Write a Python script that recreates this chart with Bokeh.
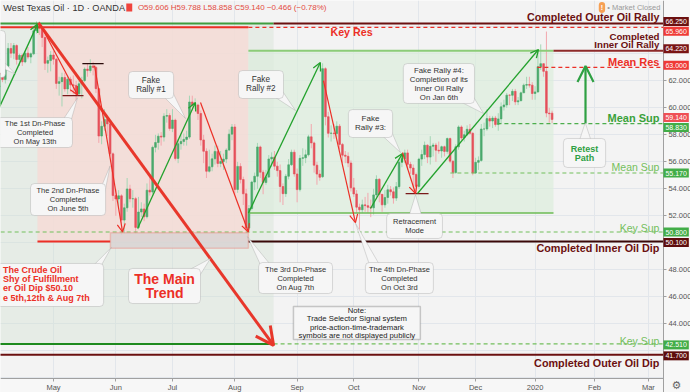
import pandas as pd
from bokeh.plotting import figure
from bokeh.models import (ColumnDataSource, FixedTicker, NumeralTickFormatter, BoxAnnotation,
                          PolyAnnotation, Label, Arrow, OpenHead, Range1d)
from bokeh.embed import file_html
from bokeh.resources import INLINE

# ---------------- data (daily bars, Apr 1 2019 .. Jan 10 2020) ----------------
opens = [
    # Apr
    60.30, 61.59, 62.58, 62.46, 62.10, 63.08, 64.40, 64.05, 64.61, 63.58, 63.89, 63.40, 64.05, 63.76,
    64.00, 65.70, 66.10, 65.89, 65.21, 63.30, 63.50,
    # May
    63.91, 63.60, 61.81, 61.94, 62.25, 61.40, 62.12, 61.70, 61.66, 61.04, 61.78, 62.02, 62.87, 62.76,
    63.10, 62.99, 61.42, 57.91, 58.63, 59.14, 58.81, 56.59,
    # Jun
    53.50, 53.25, 53.48, 51.68, 52.59, 53.99, 53.26, 53.27, 51.14, 52.28, 52.51, 51.93, 53.90, 53.76,
    57.07, 57.43, 57.90, 57.83, 59.38, 59.43,
    # Jul
    58.47, 59.09, 56.25, 57.34, 57.51, 57.66, 57.83, 60.43, 60.20, 60.21, 59.58, 57.62, 56.78, 55.30,
    55.63, 56.22, 56.77, 55.88, 56.02, 56.20, 56.87, 58.05,
    # Aug
    58.58, 53.95, 55.66, 54.69, 53.63, 51.09, 52.54, 54.50, 54.93, 57.10, 55.23, 54.47, 54.87, 56.21,
    56.34, 55.68, 55.35, 54.17, 53.64, 54.93, 55.78, 56.71,
    # Sep
    55.10, 53.94, 56.26, 56.30, 56.52, 57.85, 57.40, 55.75, 55.09, 54.90, 62.90, 59.34, 58.11, 58.13,
    58.09, 58.64, 57.29, 56.49, 56.41, 55.91,
    # Oct
    54.07, 53.62, 52.64, 52.45, 52.81, 52.75, 52.63, 52.59, 53.55, 54.70, 53.59, 52.81, 53.36, 53.93,
    53.78, 53.31, 54.16, 55.97, 56.23, 56.66, 55.81, 55.54, 55.06,
    # Nov
    54.18, 56.20, 56.54, 57.23, 56.35, 57.15, 57.24, 56.86, 56.80, 57.12, 56.77, 57.72, 56.05, 55.21,
    57.11, 58.58, 57.77, 58.01, 58.41, 58.11,
    # Dec
    55.17, 55.96, 56.10, 58.43, 58.43, 59.20, 59.02, 59.24, 58.76, 59.18, 60.07, 60.21, 60.94, 60.93,
    61.22, 60.44, 60.52, 61.11, 61.68, 61.72, 61.68,
    # Jan
    61.06, 61.18, 63.05, 63.27, 62.70, 59.61, 59.606,
]
highs = [
    61.90, 62.70, 63.00, 62.90, 63.30, 64.80, 64.80, 64.80, 64.70, 64.00, 64.00, 64.20, 64.50, 64.10,
    65.90, 66.40, 66.40, 66.00, 65.60, 63.80, 64.20,
    64.20, 63.70, 62.30, 62.60, 62.60, 62.40, 62.30, 62.40, 62.00, 62.00, 62.30, 63.00, 63.30, 63.60,
    63.40, 63.10, 61.50, 59.00, 59.90, 59.30, 58.90, 56.70,
    54.00, 53.90, 53.60, 52.90, 54.80, 54.30, 53.90, 53.40, 53.40, 53.00, 52.90, 54.40, 54.90, 57.20,
    58.00, 58.10, 58.20, 59.60, 59.90, 59.60,
    59.90, 59.20, 57.70, 58.00, 58.10, 58.30, 60.90, 60.90, 60.70, 60.30, 59.80, 58.00, 57.00, 56.90,
    56.60, 57.20, 57.20, 56.80, 56.60, 57.00, 58.40, 58.80,
    58.80, 56.00, 55.90, 54.90, 54.00, 52.80, 54.60, 55.20, 57.40, 57.20, 55.40, 55.40, 56.50, 56.70,
    56.80, 56.00, 55.80, 54.40, 55.10, 56.20, 56.90, 56.90,
    55.50, 56.50, 57.00, 56.90, 58.00, 58.80, 57.50, 56.00, 55.40, 63.30, 63.00, 59.70, 58.70, 58.80,
    59.00, 58.80, 57.40, 56.80, 56.70, 56.10,
    54.80, 53.90, 52.90, 53.20, 53.40, 53.70, 53.20, 54.00, 55.00, 54.80, 53.60, 53.90, 54.30, 54.20,
    54.10, 54.50, 56.10, 56.60, 56.90, 56.90, 56.00, 55.80, 55.20,
    56.30, 56.90, 57.50, 57.30, 57.90, 57.40, 57.40, 57.50, 57.20, 57.20, 57.80, 57.80, 56.10, 57.30,
    58.70, 58.70, 58.30, 58.70, 58.80, 58.20,
    56.30, 56.40, 58.80, 58.90, 59.90, 59.40, 59.40, 59.40, 59.60, 60.40, 60.60, 61.10, 61.00, 61.40,
    61.40, 60.80, 61.20, 61.80, 62.30, 62.30, 61.90,
    61.60, 64.10, 64.70, 63.30, 65.65, 60.00, 59.788,
]
lows = [
    60.20, 61.30, 62.00, 61.90, 61.80, 63.00, 63.70, 63.60, 63.20, 63.10, 63.10, 63.30, 63.60, 63.30,
    63.90, 65.50, 65.40, 64.50, 62.80, 62.60, 62.70,
    63.20, 61.40, 60.90, 60.10, 61.20, 61.00, 61.20, 61.00, 60.50, 60.90, 60.70, 61.90, 62.30, 62.60,
    62.40, 61.10, 57.40, 57.30, 58.30, 57.90, 56.40, 53.10,
    52.00, 52.50, 50.60, 50.70, 52.30, 53.00, 52.60, 50.70, 51.00, 51.90, 51.60, 51.80, 53.50, 53.60,
    56.70, 56.90, 57.20, 57.50, 58.90, 58.30,
    58.20, 56.10, 55.90, 56.90, 57.20, 57.20, 57.70, 59.80, 59.90, 59.10, 57.20, 55.90, 54.80, 55.20,
    55.30, 55.80, 55.60, 55.60, 55.40, 55.90, 56.80, 57.60,
    53.60, 53.70, 54.40, 52.80, 50.90, 50.90, 52.40, 53.90, 54.00, 54.80, 53.60, 54.30, 54.80, 55.60,
    55.40, 54.90, 53.00, 52.80, 53.40, 54.70, 55.70, 54.90,
    53.00, 53.80, 55.70, 55.90, 56.40, 57.00, 55.20, 54.30, 54.60, 54.80, 58.70, 57.80, 57.50, 57.70,
    57.80, 56.90, 55.90, 55.90, 55.60, 53.80,
    53.40, 52.20, 50.99, 52.20, 52.30, 52.20, 51.90, 52.10, 53.40, 53.00, 52.30, 52.60, 52.90, 53.50,
    52.90, 53.10, 54.00, 55.60, 55.90, 55.40, 55.10, 54.10, 53.70,
    54.00, 55.70, 56.20, 55.90, 55.80, 56.40, 56.00, 56.60, 56.30, 56.40, 56.60, 55.90, 54.80, 55.10,
    56.90, 57.60, 57.50, 57.90, 58.00, 55.00,
    55.10, 55.40, 56.00, 57.90, 58.30, 58.60, 58.50, 58.60, 58.30, 58.80, 59.80, 60.00, 60.20, 60.50,
    60.20, 60.20, 60.50, 61.10, 61.40, 61.50, 60.60,
    60.60, 61.10, 62.80, 62.30, 59.30, 58.90, 58.858,
]
closes = [
    61.59, 62.58, 62.46, 62.10, 63.08, 64.40, 64.05, 64.61, 63.58, 63.89, 63.40, 64.05, 63.76, 64.00,
    65.70, 66.10, 65.89, 65.21, 63.30, 63.50, 63.91,
    63.60, 61.81, 61.94, 62.25, 61.40, 62.12, 61.70, 61.66, 61.04, 61.78, 62.02, 62.87, 62.76, 63.10,
    62.99, 61.42, 57.91, 58.63, 59.14, 58.81, 56.59, 53.50,
    53.25, 53.48, 51.68, 52.59, 53.99, 53.26, 53.27, 51.14, 52.28, 52.51, 51.93, 53.90, 53.76, 57.07,
    57.43, 57.90, 57.83, 59.38, 59.43, 58.47,
    59.09, 56.25, 57.34, 57.51, 57.66, 57.83, 60.43, 60.20, 60.21, 59.58, 57.62, 56.78, 55.30, 55.63,
    56.22, 56.77, 55.88, 56.02, 56.20, 56.87, 58.05, 58.58,
    53.95, 55.66, 54.69, 53.63, 51.09, 52.54, 54.50, 54.93, 57.10, 55.23, 54.47, 54.87, 56.21, 56.34,
    55.68, 55.35, 54.17, 53.64, 54.93, 55.78, 56.71, 55.10,
    53.94, 56.26, 56.30, 56.52, 57.85, 57.40, 55.75, 55.09, 54.85, 62.90, 59.34, 58.11, 58.13, 58.09,
    58.64, 57.29, 56.49, 56.41, 55.91, 54.07,
    53.62, 52.64, 52.45, 52.81, 52.75, 52.63, 52.59, 53.55, 54.70, 53.59, 52.81, 53.36, 53.93, 53.78,
    53.31, 54.16, 55.97, 56.23, 56.66, 55.81, 55.54, 55.06, 54.18,
    56.20, 56.54, 57.23, 56.35, 57.15, 57.24, 56.86, 56.80, 57.12, 56.77, 57.72, 56.05, 55.21, 57.11,
    58.58, 57.77, 58.01, 58.41, 58.11, 55.17,
    55.96, 56.10, 58.43, 58.43, 59.20, 59.02, 59.24, 58.76, 59.18, 60.07, 60.21, 60.94, 60.93, 61.22,
    60.44, 60.52, 61.11, 61.68, 61.72, 61.68, 61.06,
    61.18, 63.05, 63.27, 62.70, 59.61, 59.56, 59.14,
]

holidays = ["2019-04-19", "2019-05-27", "2019-07-04", "2019-09-02", "2019-11-28",
            "2019-12-25", "2020-01-01", "2020-01-20", "2020-02-17"]
calendar = pd.bdate_range("2019-04-01", "2020-03-31", freq="C", holidays=holidays)

price_ticks = [44, 46, 48, 52, 54, 56, 58, 60, 62]

# key levels
outer_rally = 66.25
key_res = 65.96
inner_rally = 64.22
mean_res = 63.00
last_price = 59.14
mean_sup_hi = 58.83
mean_sup_lo = 55.17
key_sup_hi = 50.80
inner_dip = 50.10
key_sup_lo = 42.51
outer_dip = 41.70
rally_base = 52.20
tag_values = [outer_rally, key_res, inner_rally, mean_res, last_price, mean_sup_hi,
              mean_sup_lo, key_sup_hi, inner_dip, key_sup_lo, outer_dip]

header_title = "West Texas Oil · 1D · OANDA"
header_ohlc = "O59.606  H59.788  L58.858  C59.140  −0.466 (−0.78%)"

# ---------------- styling ----------------
FONT = "Liberation Sans"
UP, DN = "#4aa96c", "#e5505b"
UP_W, DN_W = "#a4d6b5", "#f2a7ad"
RED = "#ec2f26"
DARK = "#6b1010"
GREEN = "#22a12c"
LGREEN = "#73bf5c"
BG = "#f3f3f3"
PANEL = "#f7f7f7"

n = len(closes)
is_up = [c >= o for o, c in zip(opens, closes)]
src = ColumnDataSource(dict(
    x=list(range(n)), high=highs, low=lows,
    top=[max(o, c) for o, c in zip(opens, closes)],
    bottom=[min(o, c) for o, c in zip(opens, closes)],
    body=[UP if u else DN for u in is_up],
    wick=[UP_W if u else DN_W for u in is_up]))

month_idx, month_lab = [], []
for i, d in enumerate(calendar):
    if i > 0 and d.month != calendar[i - 1].month:
        month_idx.append(i)
        month_lab.append(str(d.year) if d.month == 1 else d.strftime("%b"))

X0, X_END = 2.3, 245.86      # whole canvas width in bar units
AXIS_X = 236.3               # price scale position
Y_AXIS = 39.95               # time scale position
Y0, Y1 = 38.91, 67.95

p = figure(width=690, height=392, x_range=Range1d(X0, X_END), y_range=Range1d(Y0, Y1),
           output_backend="svg", toolbar_location=None, y_axis_location="right",
           min_border=0, min_border_left=0, min_border_right=0, min_border_top=0,
           min_border_bottom=0, background_fill_color=BG, border_fill_color=PANEL,
           outline_line_color=None)

for ax in (p.xaxis[0], p.yaxis[0]):
    ax.axis_line_color = "#a0a0a0"
    ax.major_tick_line_color = "#a0a0a0"
    ax.major_tick_out = 3
    ax.major_tick_in = 0
    ax.minor_tick_line_color = None
    ax.major_label_text_font = FONT
    ax.major_label_text_font_size = "7.5px"
    ax.major_label_text_color = "#555555"
    ax.major_label_standoff = 2
p.xaxis.fixed_location = Y_AXIS
p.yaxis.fixed_location = AXIS_X
p.xaxis.bounds = (X0, AXIS_X)
p.xaxis.ticker = FixedTicker(ticks=month_idx)
p.xaxis.major_label_overrides = {i: lab for i, lab in zip(month_idx, month_lab)}
p.yaxis.ticker = FixedTicker(ticks=price_ticks)
p.yaxis.formatter = NumeralTickFormatter(format="0.000")
p.xgrid.ticker = FixedTicker(ticks=month_idx)
p.ygrid.ticker = FixedTicker(ticks=list(range(40, 68, 2)))
p.grid.grid_line_color = "#e2e6eb"

# anchor x positions (bar index) for drawings
PEAK = 15.35
BOX_L = 41.1
AUG = 89.8
TREND_END = 98.7
RALLY_END = 197.5
END = AXIS_X


def shade(l, r, t, b, color, alpha):
    p.add_layout(BoxAnnotation(left=l, right=r, top=t, bottom=b, fill_color=color,
                               fill_alpha=alpha, line_color=None, level="underlay"))


shade(-10, TREND_END, outer_rally, key_sup_lo, "#cfe0cf", 0.35)
shade(PEAK, AUG, key_res, inner_dip, "#f4dcd6", 0.85)
shade(AUG, RALLY_END, inner_rally, rally_base, "#dcecdc", 0.7)
# scale panels (price column and time strip)
shade(AXIS_X, X_END + 5, Y1 + 1, Y0 - 1, PANEL, 1)
shade(X0 - 5, X_END + 5, Y_AXIS, Y0 - 1, PANEL, 1)

# candles
p.segment(x0="x", y0="low", x1="x", y1="high", line_color="wick", line_width=1, source=src)
p.vbar(x="x", top="top", bottom="bottom", width=0.62, fill_color="body", line_color="body",
       line_width=0.6, source=src)


def hline(x0, x1, y, color, width=1.5, dash="solid"):
    p.segment(x0=[x0], y0=[y], x1=[x1], y1=[y], line_color=color, line_width=width, line_dash=dash)


hline(-10, TREND_END, outer_rally, "#3f9d3f", 2)
hline(TREND_END, END, outer_rally, DARK, 2)
hline(-10, AUG, key_res, RED, 2)
hline(AUG, END, key_res, RED, 1.2, "4 3")
hline(AUG, RALLY_END, inner_rally, "#8ccc78", 2)
hline(RALLY_END, END, inner_rally, "#8e2a2a", 2)
hline(191.8, END, mean_res, RED, 1.2, "4 3")
hline(177.7, END, mean_sup_hi, "#4cae4c", 1.2, "4 3")
hline(161.1, END, mean_sup_lo, LGREEN, 1.2, "4 3")
hline(-10, END, key_sup_hi, LGREEN, 1.2, "4 3")
hline(PEAK, BOX_L, inner_dip, RED, 2)
hline(AUG, END, inner_dip, "#3a0808", 2)
hline(AUG, RALLY_END, rally_base, "#6dbb55", 1.5)
hline(-10, TREND_END, key_sup_lo, "#1e8a1e", 2)
hline(TREND_END, END, key_sup_lo, LGREEN, 1.2, "4 3")
hline(-10, END, outer_dip, DARK, 2)
# small phase markers
hline(24.2, 31.6, 60.91, "#7a1a1a", 1.3)
hline(31.2, 38.7, 63.28, "#2a0a0a", 1.3)
hline(145.3, 153.4, 53.65, "#7a1a1a", 1.3)

p.add_layout(BoxAnnotation(left=BOX_L, right=AUG, top=key_sup_hi - 0.05, bottom=49.6,
                           fill_color="#d8d2d2", fill_alpha=0.8, line_color="#ef6e60",
                           line_width=1.5, level="annotation"))


def arrow(x0, y0, x1, y1, color, width, size):
    p.add_layout(Arrow(end=OpenHead(line_color=color, line_width=width, size=size),
                       x_start=x0, y_start=y0, x_end=x1, y_end=y1,
                       line_color=color, line_width=width))


arrow(0.5, 59.4, PEAK, 66.2, GREEN, 1.3, 8)
arrow(50.7, 51.06, 71.1, 60.39, GREEN, 1.3, 8)
arrow(AUG, rally_base, 115.2, 63.36, GREEN, 1.3, 8)
arrow(132.9, 52.54, 144.2, 56.62, GREEN, 1.3, 8)
arrow(149.5, 53.65, 192.2, 64.32, GREEN, 1.3, 8)
arrow(208.8, mean_sup_hi, 208.8, 63.1, "#2ea043", 2.2, 16)
arrow(15.7, 66.3, TREND_END, 42.4, "#e8372b", 3, 18)
arrow(17.1, 65.87, 29.5, 60.95, RED, 1.2, 8)
arrow(35.5, 63.13, 45.4, 50.8, RED, 1.2, 8)
arrow(72.9, 60.39, AUG, 50.8, RED, 1.2, 8)
arrow(116.3, 62.02, 127.6, 51.5, RED, 1.2, 8)
arrow(144.2, 56.69, 148.8, 53.65, RED, 1.2, 8)


def txt(x, y, text, size, color, bold=False, align="center", lh=1.0, font=FONT):
    p.add_layout(Label(x=x, y=y, text=text, text_font=font, text_font_size=size,
                       text_color=color, text_font_style="bold" if bold else "normal",
                       text_align=align, text_baseline="middle", text_line_height=lh,
                       level="overlay"))


BOX_FILL = "#f6f6f6"


def callout(l, r, t, b, text, tx, ty, size="7.5px", color="#333333", bold=False, lh=1.0,
            tail=None, radius=4, line="#8f8f8f", lw=1, align="center"):
    if tail:
        p.add_layout(PolyAnnotation(xs=tail[0], ys=tail[1], fill_color=BOX_FILL, fill_alpha=1,
                                    line_color=line, line_width=lw, level="overlay"))
    p.add_layout(BoxAnnotation(left=l, right=r, top=t, bottom=b, fill_color=BOX_FILL,
                               fill_alpha=1, line_color=line, line_width=lw,
                               border_radius=radius, level="overlay"))
    if text:
        txt(tx, ty, text, size, color, bold, align, lh)


callout(-12, 4.06, 65.73, 62.24, "", 0, 64, tail=([2.5, 7.6, 3.4], [63.6, 62.5, 62.9]))
callout(-5, 27.7, 59.28, 57.06, "The 1st Dn-Phase\nCompleted\nOn May 13th", 14.5, 58.17,
        tail=([24.2, 29.5, 27.2], [59.06, 60.75, 59.06]))
callout(12.9, 39.4, 54.39, 52.02, "The 2nd Dn-Phase\nCompleted\nOn June 5th", 26.1, 53.2,
        tail=([37.6, 41.0, 38.8], [54.0, 55.7, 53.4]))
callout(47.5, 63.4, 62.69, 60.69, "Fake\nRally #1", 55.4, 61.69, size="8.2px",
        tail=([59.8, 67.6, 62.5], [60.85, 59.21, 61.4]))
callout(86.3, 102.2, 62.76, 60.69, "Fake\nRally #2", 94.2, 61.73, size="8.2px",
        tail=([98.8, 106.4, 101.3], [60.85, 59.8, 61.4]))
callout(125.1, 140.7, 59.87, 57.8, "Fake\nRally #3:", 132.9, 58.84, size="8px",
        tail=([137.0, 143.5, 139.8], [57.95, 56.69, 58.5]))
callout(144.5, 169.6, 63.28, 60.32, "Fake Rally #4:\nCompletion of its\nInner Oil Rally\nOn Jan 6th",
        157.05, 61.8, size="7.8px", tail=([164.5, 172.8, 168.7], [60.47, 59.58, 61.0]))
callout(138.6, 158.3, 52.17, 50.32, "Retracement\nMode", 148.45, 51.24,
        tail=([146.5, 148.8, 151.0], [52.0, 53.55, 52.0]))
callout(93.4, 119.5, 48.54, 46.24, "The 3rd Dn-Phase\nCompleted\nOn Aug 7th", 106.45, 47.39,
        tail=([94.0, 89.5, 97.5], [48.4, 50.45, 48.4]))
callout(131.1, 155.1, 48.54, 46.24, "The 4th Dn-Phase\nCompleted\nOn Oct 3rd", 143.1, 47.39,
        tail=([132.5, 127.6, 136.0], [48.4, 51.45, 48.4]))
callout(105.7, 150.5, 45.28, 42.84,
        "Note:\nTrade Selector Signal system\nprice-action-time-trademark\nsymbols are not displayed publicly",
        128.1, 44.06, size="7.7px", color="#222222", lh=0.9, radius=0, line="#5a5a5a", lw=1.5)
callout(47.5, 72.9, 48.1, 45.5, "The Main\nTrend", 60.2, 46.8, size="14px", color=RED,
        bold=True, lh=0.87, tail=([68.5, 76.4, 71.8], [47.95, 48.84, 47.3]))
callout(-12, 38.7, 48.47, 45.28,
        "The Crude Oil\nShy of Fulfillment\ner Oil Dip $50.10\ne 5th,12th & Aug 7th",
        3.2, 46.96, size="9px", color=RED, bold=True, lh=0.92, align="left",
        tail=([35.0, 41.4, 37.8], [48.3, 49.65, 48.3]))
callout(201.0, 215.9, 57.73, 55.58, "Retest\nPath", 208.45, 56.65, size="9px", color="#2ea043",
        bold=True, lh=0.9, tail=([206.6, 208.7, 210.8], [57.55, 58.9, 57.55]))

# level captions
RX = 234.9
txt(RX, 66.76, "Completed Outer Oil Rally", "10.7px", DARK, True, "right")
txt(126.2, 65.6, "Key Res", "10.7px", RED, True)
txt(RX, 65.28, "Completed", "9.7px", DARK, True, "right")
txt(RX, 64.69, "Inner Oil Rally", "9.7px", DARK, True, "right")
txt(RX, 63.43, "Mean Res", "11px", RED, True, "right")
txt(RX, 59.28, "Mean Sup", "11px", "#3aa13a", True, "right")
txt(RX, 55.58, "Mean Sup", "10.5px", LGREEN, False, "right")
txt(RX, 51.06, "Key Sup", "10.5px", LGREEN, False, "right")
txt(RX, 49.58, "Completed Inner Oil Dip", "10.8px", DARK, True, "right")
txt(RX, 42.76, "Key Sup", "10.5px", LGREEN, False, "right")
txt(RX, 41.13, "Completed Outer Oil Dip", "10.8px", DARK, True, "right")

# header
txt(3.3, 67.43, header_title, "9.2px", "#333333", False, "left")
p.add_layout(BoxAnnotation(left=46.7, right=48.8, top=67.72, bottom=67.14, fill_color="#f0443c",
                           fill_alpha=1, line_color=None, level="overlay"))
txt(50.8, 67.43, header_ohlc, "8px", "#e34a40", False, "left")
p.add_layout(Label(x=214.6, y=67.43, text="!", text_font=FONT, text_font_size="7px",
                   text_font_style="bold", text_color="white", text_align="center",
                   text_baseline="middle", background_fill_color="#f6a054", padding=2,
                   border_radius=5, level="overlay"))
txt(235.2, 67.43, "• Market Closed", "7.5px", "#9a9a9a", False, "right")
# settings gear in the scale corner
txt(240.9, 39.43, "⚙", "11px", "#666666", False, "center", font="DejaVu Sans")

# price tags on the right scale
tag_colors = [DARK, "#ef3a36", "#7a1515", "#ef3a36", "#ef4f55", "#42ad48", "#42ad48",
              "#42ad48", "#5e0d0d", "#42ad48", "#5e0d0d"]
tag_nudge = [2, -4, 2, 2, 2, -4, 0, 0, -1, -1, -1]
for v, c, dy in zip(tag_values, tag_colors, tag_nudge):
    p.add_layout(Label(x=AXIS_X, y=v, x_offset=0, y_offset=dy, text=f"{v:.3f}", text_font=FONT,
                       text_font_size="7px", text_color="white", text_align="left",
                       text_baseline="middle", background_fill_color=c, padding=2,
                       level="overlay"))

open("out.html", "w").write(file_html(p, INLINE))
